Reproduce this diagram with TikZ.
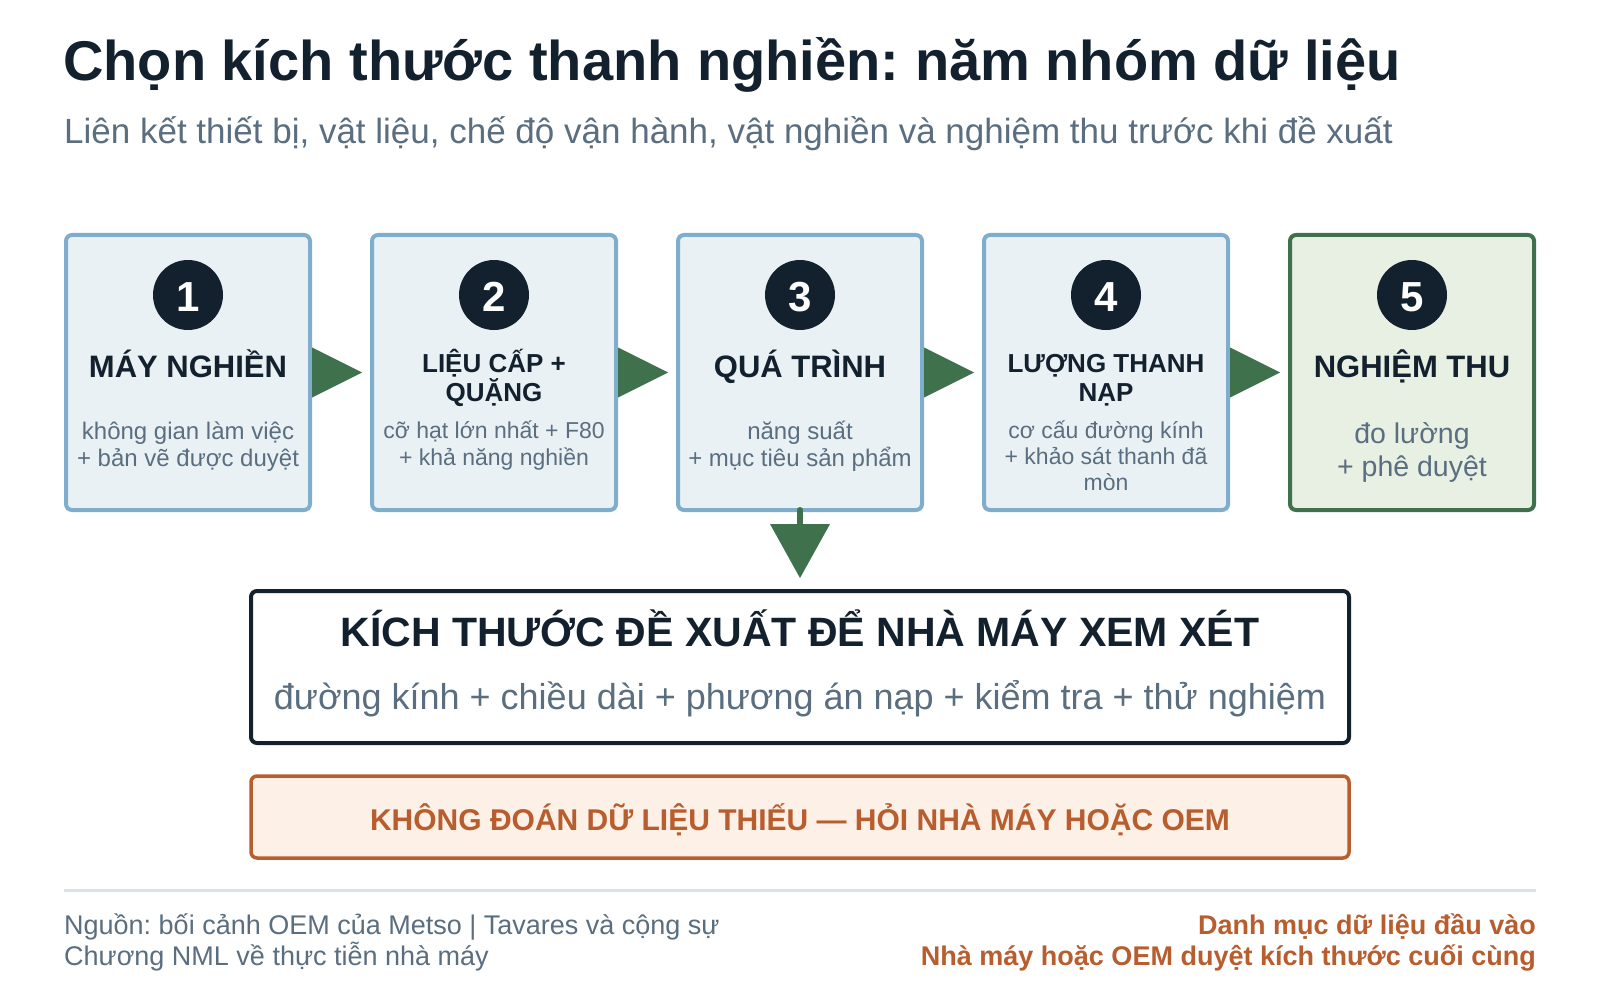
\documentclass[tikz,border=0pt]{standalone}
\usepackage{fontspec}
\setmainfont{Liberation Sans}
\usetikzlibrary{calc}
\frenchspacing
\definecolor{navy}{HTML}{13202D}
\definecolor{cardline}{HTML}{7EAECB}
\definecolor{cardfill}{HTML}{EAF1F5}
\definecolor{okline}{HTML}{3E714C}
\definecolor{okfill}{HTML}{E7F0E3}
\definecolor{graytxt}{HTML}{5A6E80}
\definecolor{warn}{HTML}{B85D2E}
\definecolor{warnfill}{HTML}{FDF0E7}
\definecolor{sepline}{HTML}{D9E2E9}
\begin{document}
\begin{tikzpicture}[x=1pt,y=-1pt,
  card/.style={draw=cardline, fill=cardfill, line width=4pt, rounded corners=6pt,
    minimum width=244pt, minimum height=275pt, inner sep=0pt},
  okcard/.style={card, draw=okline, fill=okfill},
  badge/.style={circle, fill=navy, minimum size=70pt, inner sep=0pt},
  num/.style={inner sep=0pt, text=white, font=\fontsize{42}{46}\selectfont\bfseries},
  ttl/.style={anchor=base, inner sep=0pt, text=navy, font=\fontsize{31}{34}\selectfont\bfseries},
  ttls/.style={anchor=base, inner sep=0pt, text=navy, font=\fontsize{26}{29}\selectfont\bfseries},
  dsc/.style={anchor=base, inner sep=0pt, text=graytxt, font=\fontsize{24}{27}\selectfont},
  dscs/.style={anchor=base, inner sep=0pt, text=graytxt, font=\fontsize{23}{26}\selectfont},
  dscb/.style={anchor=base, inner sep=0pt, text=graytxt, font=\fontsize{28.5}{32}\selectfont},
  flow/.style={fill=okline},
  foot/.style={inner sep=0pt, text=graytxt, font=\fontsize{27}{30}\selectfont},
  footr/.style={inner sep=0pt, text=warn, font=\fontsize{27}{30}\selectfont\bfseries}
]
\useasboundingbox[fill=white] (0,0) rectangle (1600,1000);

% title
\node[anchor=base west, inner sep=0pt, text=navy, font=\fontsize{56}{60}\selectfont\bfseries] (title) at (63,81) {Chọn kích thước thanh nghiền: năm nhóm dữ liệu};
\node[anchor=base west, inner sep=0pt, text=graytxt, font=\fontsize{35}{39}\selectfont] (subtitle) at (64,144) {Liên kết thiết bị, vật liệu, chế độ vận hành, vật nghiền và nghiệm thu trước khi đề xuất};

% cards
\node[card] (b1) at (188,372.5) {};
\node[card] (b2) at (494,372.5) {};
\node[card] (b3) at (800,372.5) {};
\node[card] (b4) at (1106,372.5) {};
\node[okcard] (b5) at (1412,372.5) {};

% flow arrows
\foreach \a/\b in {b1/b2,b2/b3,b3/b4,b4/b5}{
  \fill[flow] ($(\a.east)+(0,-25)$) -- ($(\a.east)+(50,0)$) -- ($(\a.east)+(0,25)$) -- cycle;
}

% badges
\foreach \i/\x in {1/188,2/494,3/800,4/1106,5/1412}{
  \node[badge] (c\i) at (\x,295) {};
  \node[num] (n\i) at (\x,297) {\i};
}

% card 1
\node[ttl] (t1) at (188,377) {MÁY NGHIỀN};
\node[dsc] (d1a) at (188,439) {không gian làm việc};
\node[dsc] (d1b) at (188,466) {+ bản vẽ được duyệt};
% card 2
\node[ttls] (t2a) at (494,372) {LIỆU CẤP +};
\node[ttls] (t2b) at (494,401) {QUẶNG};
\node[dscs] (d2a) at (494,438) {cỡ hạt lớn nhất + F80};
\node[dscs] (d2b) at (494,465) {+ khả năng nghiền};
% card 3
\node[ttl] (t3) at (800,377) {QUÁ TRÌNH};
\node[dsc] (d3a) at (800,439) {năng suất};
\node[dsc] (d3b) at (800,466) {+ mục tiêu sản phẩm};
% card 4
\node[ttls] (t4a) at (1106,372) {LƯỢNG THANH};
\node[ttls] (t4b) at (1106,401) {NẠP};
\node[dscs] (d4a) at (1106,438) {cơ cấu đường kính};
\node[dscs] (d4b) at (1106,464) {+ khảo sát thanh đã};
\node[dscs] (d4c) at (1106,490) {mòn};
% card 5
\node[ttl] (t5) at (1412,377) {NGHIỆM THU};
\node[dscb] (d5a) at (1412,443) {đo lường};
\node[dscb] (d5b) at (1412,476) {+ phê duyệt};

% result box
\node[draw=navy, fill=white, line width=4pt, rounded corners=6pt, minimum width=1098pt, minimum height=152pt, inner sep=0pt] (res) at (800,667) {};
\node[anchor=base, inner sep=0pt, text=navy, font=\fontsize{41}{45}\selectfont\bfseries] (rest) at (800,646) {KÍCH THƯỚC ĐỀ XUẤT ĐỂ NHÀ MÁY XEM XÉT};
\node[anchor=base, inner sep=0pt, text=graytxt, font=\fontsize{36}{40}\selectfont] (resd) at (800,709) {đường kính + chiều dài + phương án nạp + kiểm tra + thử nghiệm};

% down arrow
\draw[okline, line width=6pt, line cap=round] ($(b3.south)+(0,-2)$) -- ($(b3.south)+(0,14)$);
\fill[flow] ($(b3.south)+(-30,12)$) -- ($(b3.south)+(30,12)$) -- ($(res.north)+(0,-11)$) -- cycle;

% warning box
\node[draw=warn, fill=warnfill, line width=3.5pt, rounded corners=6pt, minimum width=1098pt, minimum height=82pt, inner sep=0pt] (warnbox) at (800,817) {};
\node[anchor=base, inner sep=0pt, text=warn, font=\fontsize{30}{33}\selectfont\bfseries] (warnt) at (800,830) {KHÔNG ĐOÁN DỮ LIỆU THIẾU — HỎI NHÀ MÁY HOẶC OEM};

% separator
\coordinate (sl) at (64,890);
\coordinate (sr) at (1536,890);
\draw[sepline, line width=3pt] (sl) -- (sr);

% footer
\node[foot, anchor=base west] (f1) at (64,934) {Nguồn: bối cảnh OEM của Metso | Tavares và cộng sự};
\node[foot, anchor=base west] (f2) at (64,965) {Chương NML về thực tiễn nhà máy};
\node[footr, anchor=base east] (f3) at (1536,934) {Danh mục dữ liệu đầu vào};
\node[footr, anchor=base east] (f4) at (1536,965) {Nhà máy hoặc OEM duyệt kích thước cuối cùng};
\end{tikzpicture}
\end{document}
